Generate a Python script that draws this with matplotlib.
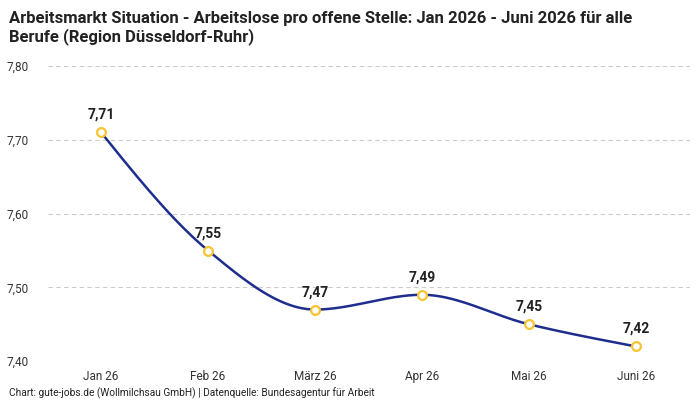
import numpy as np
import matplotlib.pyplot as plt

plt.rcParams['font.family'] = ['Roboto', 'DejaVu Sans']

# data
monate = ['Jan 26', 'Feb 26', 'März 26', 'Apr 26', 'Mai 26', 'Juni 26']
werte = [7.71, 7.55, 7.47, 7.49, 7.45, 7.42]
y_ticks = [7.40, 7.50, 7.60, 7.70, 7.80]

linie = '#1f2d8f'
punkt = '#f7c331'


def monotone_x(xs, ys, n=40):
    # monotone cubic curve like d3.curveMonotoneX
    xs = np.asarray(xs, float)
    ys = np.asarray(ys, float)
    h = np.diff(xs)
    s = np.diff(ys) / h
    t = np.zeros(len(xs))
    for i in range(1, len(xs) - 1):
        p = (s[i - 1] * h[i] + s[i] * h[i - 1]) / (h[i - 1] + h[i])
        t[i] = (np.sign(s[i - 1]) + np.sign(s[i])) * min(abs(s[i - 1]), abs(s[i]), 0.5 * abs(p))
    t[0] = (3 * s[0] - t[1]) / 2
    t[-1] = (3 * s[-1] - t[-2]) / 2
    px, py = [], []
    u = np.linspace(0, 1, n)
    for i in range(len(xs) - 1):
        dx = h[i] / 3
        x0, x1, x2, x3 = xs[i], xs[i] + dx, xs[i + 1] - dx, xs[i + 1]
        y0, y1, y2, y3 = ys[i], ys[i] + dx * t[i], ys[i + 1] - dx * t[i + 1], ys[i + 1]
        b = [(1 - u) ** 3, 3 * (1 - u) ** 2 * u, 3 * (1 - u) * u ** 2, u ** 3]
        px.extend(b[0] * x0 + b[1] * x1 + b[2] * x2 + b[3] * x3)
        py.extend(b[0] * y0 + b[1] * y1 + b[2] * y2 + b[3] * y3)
    return np.array(px), np.array(py)


fig = plt.figure(figsize=(7, 4), dpi=100)
ax = fig.add_axes([0.068, 0.097, 0.917, 0.738])

x = np.arange(len(monate))
cx, cy = monotone_x(x, werte)
ax.plot(cx, cy, color=linie, lw=1.8, zorder=3)
ax.scatter(x, werte, s=40, facecolor='white', edgecolor=punkt, linewidth=1.6, zorder=4)

for xi, w in zip(x, werte):
    ax.annotate(f'{w:.2f}'.replace('.', ','), (xi, w), xytext=(0, 7.5),
                textcoords='offset points', ha='center', va='bottom',
                fontsize=10, fontweight='bold', color='#222222')

ax.set_xlim(-0.5, len(monate) - 0.5)
ax.set_ylim(7.40, 7.80)
ax.set_yticks(y_ticks)
ax.set_yticklabels([f'{v:.2f}'.replace('.', ',') for v in y_ticks])
ax.set_xticks(x)
ax.set_xticklabels(monate)
ax.tick_params(axis='both', length=0, labelsize=8.5, colors='#333333')
ax.tick_params(axis='x', pad=6)
ax.tick_params(axis='y', pad=14)
ax.grid(axis='y', color='#cccccc', ls=(0, (4, 3)), lw=0.8)
for sp in ax.spines.values():
    sp.set_visible(False)

fig.text(0.013, 0.972, 'Arbeitsmarkt Situation - Arbeitslose pro offene Stelle: Jan 2026 - Juni 2026 für alle\nBerufe (Region Düsseldorf-Ruhr)',
         ha='left', va='top', fontsize=12, fontweight='bold', color='#222222', linespacing=1.15)
fig.text(0.013, 0.003, 'Chart: gute-jobs.de (Wollmilchsau GmbH) | Datenquelle: Bundesagentur für Arbeit',
         ha='left', va='bottom', fontsize=7.3, color='#222222')

fig.savefig('out.png', dpi=100)
